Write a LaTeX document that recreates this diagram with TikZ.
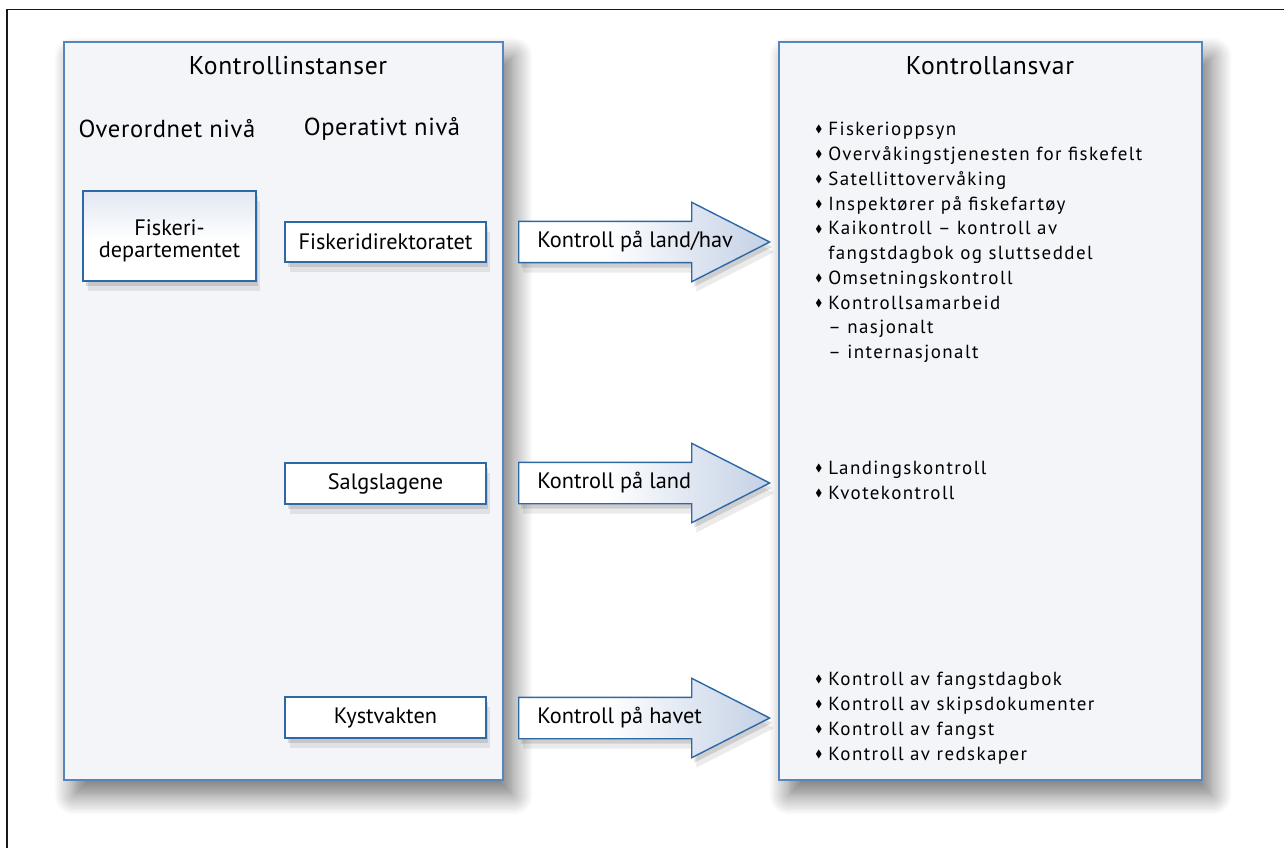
\documentclass[tikz,border=0pt]{standalone}
\usepackage{fontspec}
\setmainfont{PT Sans}
\newfontfamily\listfont{PT Sans}[LetterSpace=7.5]
\newfontfamily\headfont{PT Sans}[LetterSpace=2.5]
\usepackage{amssymb}
\usepackage{tikz}
\usetikzlibrary{positioning,shapes.arrows,shadows,shadows.blur}
\usepackage{xcolor}
\definecolor{PanelFill}{RGB}{243,245,249}
\definecolor{PanelLine}{RGB}{88,134,188}
\definecolor{BoxLine}{RGB}{46,104,165}
\definecolor{ArrowBlue}{RGB}{150,173,210}
\definecolor{DepTop}{RGB}{196,210,232}
\pgfdeclarehorizontalshading{arrowshade}{100bp}{color(0bp)=(white); color(42bp)=(white); color(100bp)=(ArrowBlue)}
\pgfdeclareverticalshading{depshade}{100bp}{color(0bp)=(white); color(48bp)=(white); color(100bp)=(DepTop)}
\newcommand{\bul}{\makebox[0.26cm][l]{\raisebox{0.3ex}{\scalebox{0.55}{$\blacklozenge$}}}}
\newcommand{\ind}{\hspace*{0.26cm}}

\begin{document}
\begin{tikzpicture}[x=0.02cm, y=-0.02cm,
    panel/.style={rectangle, draw=PanelLine, line width=0.8pt, fill=PanelFill,
        blur shadow={shadow xshift=0.2cm, shadow yshift=-0.3cm, shadow blur radius=0.4cm,
            shadow blur steps=14, shadow opacity=55}},
    softshadow/.style={drop shadow={shadow xshift=0.05cm, shadow yshift=-0.1cm, opacity=0.12, fill=black},
        drop shadow={shadow xshift=0.09cm, shadow yshift=-0.2cm, opacity=0.08, fill=black}},
    orgbox/.style={rectangle, draw=BoxLine, line width=0.9pt, fill=white,
        minimum width=4.02cm, minimum height=0.81cm, font=\fontsize{12.7}{13}\selectfont,
        softshadow},
    bigarrow/.style={single arrow, draw=BoxLine, line width=0.8pt, shading=arrowshade,
        single arrow head extend=0.38cm, single arrow tip angle=54,
        minimum height=5.02cm, inner xsep=0pt, inner ysep=0.4cm,
        text height=0pt, text depth=0pt, anchor=tail, softshadow},
    arrlabel/.style={inner sep=0pt, font=\fontsize{12.7}{14}\selectfont},
    title/.style={font=\headfont\fontsize{14.6}{17}\selectfont},
    level/.style={font=\headfont\fontsize{14}{16}\selectfont},
    duties/.style={anchor=north west, inner sep=0pt, align=left,
        font=\listfont\fontsize{10.8}{14.1}\selectfont},
]
\useasboundingbox (0,0) rectangle (1284,848);
\draw[line width=1.1pt, black!90] (7,848) -- (7,9.5) -- (1284,9.5);

% panels
\node[panel, minimum width=8.78cm, minimum height=14.76cm] (inst) at (283.5,411) {};
\node[panel, minimum width=8.46cm, minimum height=14.76cm] (ansvar) at (990.5,411) {};
\node[title] (insttitle) at (288,66) {Kontrollinstanser};
\node[title] (ansvartitle) at (990,66) {Kontrollansvar};
\node[level] (overordnet) at (167,129) {Overordnet nivå};
\node[level] (operativt) at (382,129) {Operativt nivå};

% boxes
\node[orgbox, minimum width=3.46cm, minimum height=1.8cm, shading=depshade, align=center,
    font=\fontsize{12.7}{12.4}\selectfont]
    (dep) at (169.5,236) {\rule{0pt}{0.52cm}Fiskeri-\\departementet};
\node[orgbox] (dir) at (385.5,242) {Fiskeridirektoratet};
\node[orgbox] (salg) at (385.5,483.5) {Salgslagene};
\node[orgbox] (kyst) at (385.5,717.5) {Kystvakten};

% arrows
\node[bigarrow] (arrhav) at (518,242) {};
\node[bigarrow] (arrland) at (518,483) {};
\node[bigarrow] (arrsjo) at (518,718) {};
\node[arrlabel, right=0.38cm of arrhav.tail] {Kontroll på land/hav};
\node[arrlabel, right=0.38cm of arrland.tail] {Kontroll på land};
\node[arrlabel, right=0.38cm of arrsjo.tail] {Kontroll på havet};

% duties
\node[duties] (listhav) at (815,122) {\bul Fiskerioppsyn\\
    \bul Overvåkingstjenesten for fiskefelt\\
    \bul Satellittovervåking\\
    \bul Inspektører på fiskefartøy\\
    \bul Kaikontroll – kontroll av\\
    \ind fangstdagbok og sluttseddel\\
    \bul Omsetningskontroll\\
    \bul Kontrollsamarbeid\\
    \ind – nasjonalt\\
    \ind – internasjonalt};
\node[duties] (listland) at (815,461) {\bul Landingskontroll\\
    \bul Kvotekontroll};
\node[duties] (listsjo) at (815,672) {\bul Kontroll av fangstdagbok\\
    \bul Kontroll av skipsdokumenter\\
    \bul Kontroll av fangst\\
    \bul Kontroll av redskaper};
\end{tikzpicture}
\end{document}
